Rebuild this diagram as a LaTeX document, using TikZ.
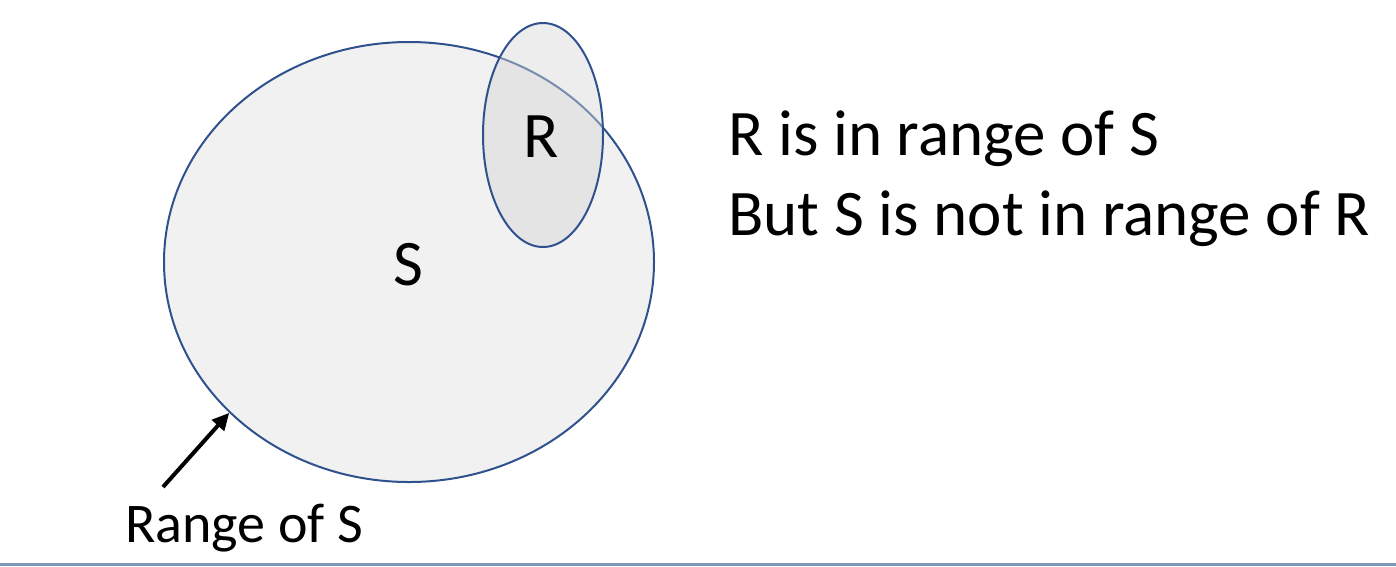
\documentclass[tikz,border=0pt]{standalone}
\usepackage{fontspec}
\setmainfont{Carlito}
\usetikzlibrary{shapes.geometric,arrows.meta}
\definecolor{outl}{RGB}{47,82,143}
\definecolor{sfill}{RGB}{241,241,241}
\definecolor{rfill}{RGB}{214,214,214}
\definecolor{baseln}{RGB}{125,152,182}
\tikzset{
  setshape/.style={ellipse, draw=outl, line width=2pt, inner sep=0pt},
  lbl/.style={inner sep=0pt, anchor=base, font=\fontsize{65}{78}\selectfont},
  sidetext/.style={inner sep=0pt, anchor=base west, font=\fontsize{65}{78}\selectfont},
  pointer/.style={line width=4pt, -{Triangle[length=17pt,width=16pt]}},
}
\begin{document}
\begin{tikzpicture}[x=1pt,y=-1pt]
\useasboundingbox (0,0) rectangle (1396,566);
\node[setshape, fill=sfill, minimum width=490pt, minimum height=440pt] (S) at (409,262) {};
\node[setshape, fill=rfill, fill opacity=0.45, minimum width=120pt, minimum height=224pt] (R) at (543,135) {};
\node[lbl] (lblR) at (541,157) {R};
\node[lbl] (lblS) at (408,285) {S};
\node[sidetext] (t1) at (728,155) {R is in range of S};
\node[sidetext] (t2) at (728,235) {But S is not in range of R};
\node[inner sep=0pt, anchor=base west, font=\fontsize{56}{67}\selectfont] (rng) at (125,542) {Range of S};
\coordinate (tail) at (163,487);
\draw[pointer] (tail) -- (S.220.5);
\coordinate (bl) at (0,564.5);
\coordinate (br) at (1396,564.5);
\draw[baseln, line width=2.2pt] (bl) -- (br);
\end{tikzpicture}
\end{document}
